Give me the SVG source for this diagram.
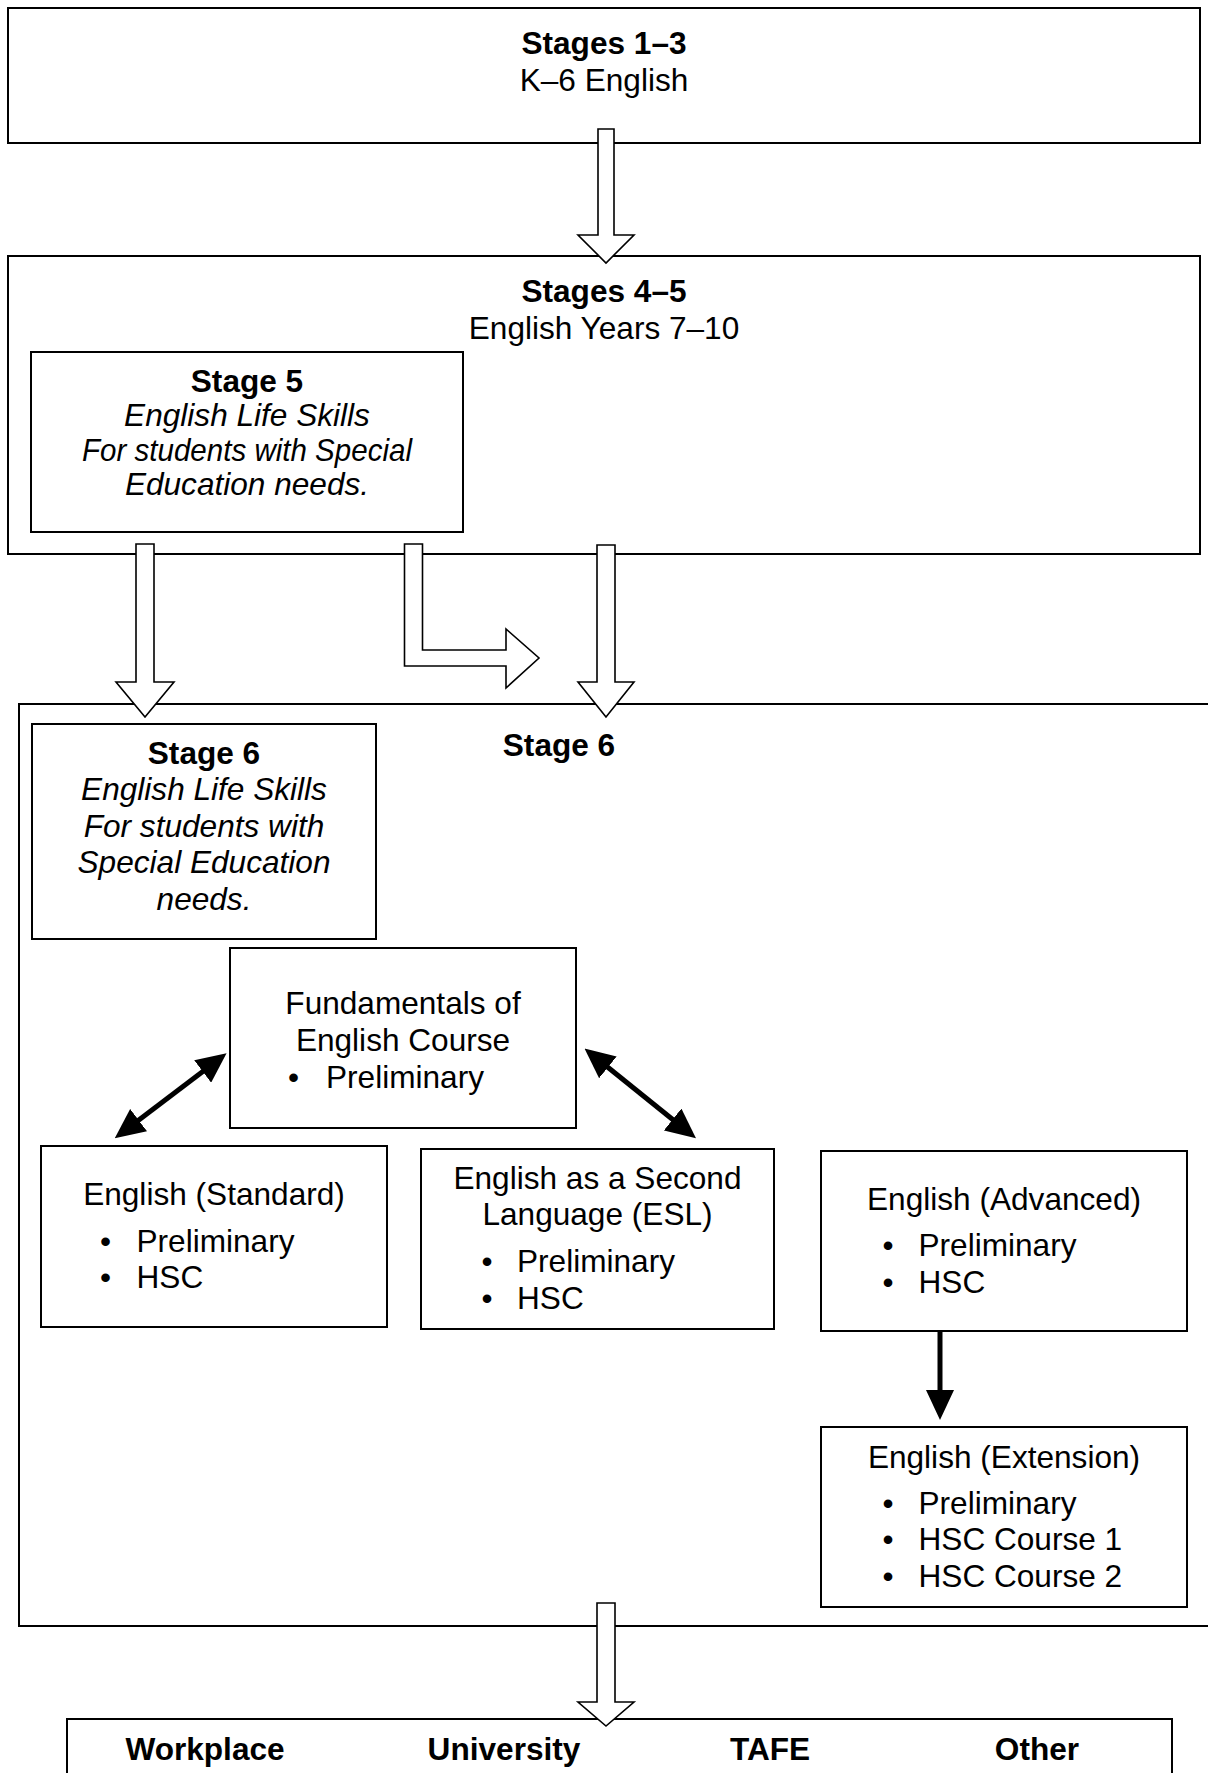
<svg xmlns="http://www.w3.org/2000/svg" width="1208" height="1773" viewBox="0 0 1208 1773">
<defs>
<style>
.box{fill:#fff;stroke:#000;stroke-width:2}
.hollow{fill:#fff;stroke:#000;stroke-width:1.6;stroke-linejoin:miter}
.solid{stroke:#000;stroke-width:5;fill:none}
text{font-family:"Liberation Sans",Arial,Helvetica,sans-serif;font-size:31.6px;fill:#000}
.c{text-anchor:middle}
.b{font-weight:bold}
.i{font-style:italic}
</style>
<marker id="ah" markerUnits="userSpaceOnUse" viewBox="0 0 30 28" markerWidth="30" markerHeight="28" refX="20" refY="14" orient="auto-start-reverse">
<path d="M0,0 L30,14 L0,28 z" fill="#000"/>
</marker>
</defs>
<rect width="1208" height="1773" fill="#fff"/>

<g id="stages1-3">
<rect class="box" x="8" y="8" width="1192" height="135"/>
<text class="c b" x="604" y="54">Stages 1–3</text>
<text class="c" x="604" y="91">K–6 English</text>
</g>

<g id="stages4-5">
<rect class="box" x="8" y="256" width="1192" height="298"/>
<text class="c b" x="604" y="302">Stages 4–5</text>
<text class="c" x="604" y="339">English Years 7–10</text>
</g>

<g id="stage5-lifeskills">
<rect class="box" x="31" y="352" width="432" height="180"/>
<text class="c b" x="247" y="391.5">Stage 5</text>
<text class="c i" x="247" y="426">English Life Skills</text>
<text class="c i" x="247" y="460.5" textLength="330" lengthAdjust="spacingAndGlyphs">For students with Special</text>
<text class="c i" x="247" y="494.5">Education needs.</text>
</g>

<g id="stage6">
<rect class="box" x="19" y="704" width="1220" height="922"/>
<text class="c b" x="559" y="756">Stage 6</text>
</g>

<g id="stage6-lifeskills">
<rect class="box" x="32" y="724" width="344" height="215"/>
<text class="c b" x="204" y="763.5">Stage 6</text>
<text class="c i" x="204" y="799.5">English Life Skills</text>
<text class="c i" x="204" y="836.5">For students with</text>
<text class="c i" x="204" y="873">Special Education</text>
<text class="c i" x="204" y="909.5">needs.</text>
</g>

<g id="fundamentals">
<rect class="box" x="230" y="948" width="346" height="180"/>
<text class="c" x="403" y="1014">Fundamentals of</text>
<text class="c" x="403" y="1051">English Course</text>
<text x="288" y="1088">•</text>
<text x="326" y="1088">Preliminary</text>
</g>

<g id="standard">
<rect class="box" x="41" y="1146" width="346" height="181"/>
<text class="c" x="214" y="1205">English (Standard)</text>
<text x="100" y="1252">•</text>
<text x="136.5" y="1252">Preliminary</text>
<text x="100" y="1288">•</text>
<text x="136.5" y="1288">HSC</text>
</g>

<g id="esl">
<rect class="box" x="421" y="1149" width="353" height="180"/>
<text class="c" x="597.5" y="1189">English as a Second</text>
<text class="c" x="597.5" y="1225">Language (ESL)</text>
<text x="481.5" y="1272">•</text>
<text x="517" y="1272">Preliminary</text>
<text x="481.5" y="1309">•</text>
<text x="517" y="1309">HSC</text>
</g>

<g id="advanced">
<rect class="box" x="821" y="1151" width="366" height="180"/>
<text class="c" x="1004" y="1210">English (Advanced)</text>
<text x="882.5" y="1256">•</text>
<text x="918.5" y="1256">Preliminary</text>
<text x="882.5" y="1293">•</text>
<text x="918.5" y="1293">HSC</text>
</g>

<g id="extension">
<rect class="box" x="821" y="1427" width="366" height="180"/>
<text class="c" x="1004" y="1468">English (Extension)</text>
<text x="882.5" y="1514">•</text>
<text x="918.5" y="1514">Preliminary</text>
<text x="882.5" y="1550">•</text>
<text x="918.5" y="1550">HSC Course 1</text>
<text x="882.5" y="1587">•</text>
<text x="918.5" y="1587">HSC Course 2</text>
</g>

<g id="destinations">
<rect class="box" x="67" y="1719" width="1105" height="100"/>
<text class="c b" x="205" y="1760">Workplace</text>
<text class="c b" x="504" y="1760">University</text>
<text class="c b" x="770" y="1760">TAFE</text>
<text class="c b" x="1037" y="1760">Other</text>
</g>

<g id="connectors">
<polygon class="hollow" points="598,129 614,129 614,235 634,235 606,263 578,235 598,235"/>
<polygon class="hollow" points="136,544 154,544 154,682 174,682 145,717 116,682 136,682"/>
<polygon class="hollow" points="404.5,544 422.5,544 422.5,650 506,650 506,629 539,658 506,688 506,666 404.5,666"/>
<polygon class="hollow" points="597,545 615,545 615,682 634,682 606,717 578,682 597,682"/>
<polygon class="hollow" points="597,1603 615,1603 615,1702 634,1702 606,1726 578,1702 597,1702"/>
<line class="solid" x1="218.6" y1="1059.4" x2="122.7" y2="1132.2" marker-start="url(#ah)" marker-end="url(#ah)"/>
<line class="solid" x1="592.3" y1="1054.8" x2="688.2" y2="1132" marker-start="url(#ah)" marker-end="url(#ah)"/>
<line class="solid" x1="940" y1="1331" x2="940" y2="1410" marker-end="url(#ah)"/>
</g>
</svg>
